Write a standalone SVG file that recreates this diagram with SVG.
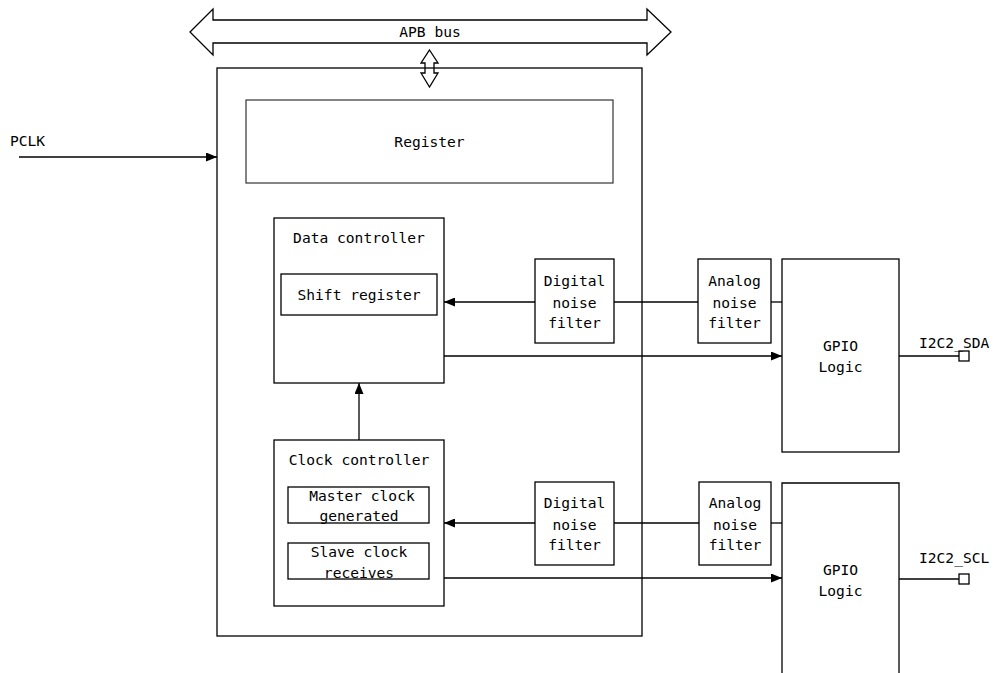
<svg xmlns="http://www.w3.org/2000/svg" width="995" height="673" viewBox="0 0 995 673">
<style>
.b{fill:none;stroke:#000;stroke-width:1.3}
.t{font-family:"DejaVu Sans Mono","Liberation Mono",monospace;font-size:14.6px;fill:#000}
.c{text-anchor:middle}
.l{fill:none;stroke:#000;stroke-width:1.3}
</style>
<defs>
<marker id="ah" viewBox="0 0 11 9" refX="11" refY="4.5" markerWidth="11" markerHeight="9" markerUnits="userSpaceOnUse" orient="auto">
<path d="M0,0 L11,4.5 L0,9 Z" fill="#000"/>
</marker>
</defs>
<rect width="995" height="673" fill="#fff"/>
<g id="apb_bus">
<polygon class="b" points="190,32 213,9 213,20 647,20 647,9 671,32 647,55 647,43 213,43 213,55"/>
<text class="t c" x="430" y="37">APB bus</text>
</g>
<g id="i2c_block">
<rect class="b" x="217" y="68" width="425" height="568"/>
</g>
<g id="apb_link">
<polygon class="b" points="429.5,50 438,63 434,63 434,73 438,73 429.5,87 421,73 425,73 425,63 421,63"/>
</g>
<g id="pclk">
<text class="t" x="10" y="146">PCLK</text>
</g>
<g id="register">
<rect x="246" y="100" width="367" height="83" fill="none" stroke="#333" stroke-width="1.2"/>
<text class="t c" x="429.5" y="147">Register</text>
</g>
<g id="data_controller">
<rect class="b" x="274" y="218" width="170" height="165"/>
<text class="t c" x="359" y="243">Data controller</text>
</g>
<g id="shift_register">
<rect class="b" x="281" y="274" width="156" height="41"/>
<text class="t c" x="359" y="300">Shift register</text>
</g>
<g id="clock_controller">
<rect class="b" x="274" y="440" width="170" height="166"/>
<text class="t c" x="359" y="465">Clock controller</text>
</g>
<g id="master_clock">
<rect class="b" x="288" y="487" width="141" height="36"/>
<text class="t c" x="362" y="501">Master clock</text>
<text class="t c" x="359" y="521">generated</text>
</g>
<g id="slave_clock">
<rect class="b" x="288" y="543" width="141" height="36"/>
<text class="t c" x="359" y="557">Slave clock</text>
<text class="t c" x="359" y="578">receives</text>
</g>
<g id="digital_filter_1">
<rect class="b" x="535" y="259" width="79" height="84"/>
<text class="t c" x="574.5" y="286">Digital</text>
<text class="t c" x="574.5" y="308">noise</text>
<text class="t c" x="574.5" y="328">filter</text>
</g>
<g id="analog_filter_1">
<rect class="b" x="698" y="259" width="73" height="84"/>
<text class="t c" x="734.5" y="286">Analog</text>
<text class="t c" x="734.5" y="308">noise</text>
<text class="t c" x="734.5" y="328">filter</text>
</g>
<g id="digital_filter_2">
<rect class="b" x="535" y="482" width="79" height="83"/>
<text class="t c" x="574.5" y="508">Digital</text>
<text class="t c" x="574.5" y="530">noise</text>
<text class="t c" x="574.5" y="550">filter</text>
</g>
<g id="analog_filter_2">
<rect class="b" x="699" y="482" width="72" height="83"/>
<text class="t c" x="735" y="508">Analog</text>
<text class="t c" x="735" y="530">noise</text>
<text class="t c" x="735" y="550">filter</text>
</g>
<g id="gpio_1">
<rect class="b" x="782" y="259" width="117" height="193"/>
<text class="t c" x="840.5" y="351">GPIO</text>
<text class="t c" x="840.5" y="372">Logic</text>
</g>
<g id="gpio_2">
<path class="b" d="M782,680 L782,483 L899,483 L899,680"/>
<text class="t c" x="840.5" y="575">GPIO</text>
<text class="t c" x="840.5" y="596">Logic</text>
</g>
<g id="pin_sda">
<rect class="b" x="959" y="351" width="10" height="10"/>
<text class="t" x="919" y="348">I2C2_SDA</text>
</g>
<g id="pin_scl">
<rect class="b" x="959" y="574" width="10" height="10"/>
<text class="t" x="919" y="563">I2C2_SCL</text>
</g>
<g id="connectors">
<line class="l" x1="19" y1="157" x2="217" y2="157" marker-end="url(#ah)"/>
<line class="l" x1="535" y1="302" x2="444" y2="302" marker-end="url(#ah)"/>
<line class="l" x1="614" y1="302" x2="698" y2="302"/>
<line class="l" x1="771" y1="302" x2="782" y2="302"/>
<line class="l" x1="444" y1="356" x2="782" y2="356" marker-end="url(#ah)"/>
<line class="l" x1="359" y1="440" x2="359" y2="383" marker-end="url(#ah)"/>
<line class="l" x1="535" y1="523" x2="444" y2="523" marker-end="url(#ah)"/>
<line class="l" x1="614" y1="523" x2="699" y2="523"/>
<line class="l" x1="771" y1="523" x2="782" y2="523"/>
<line class="l" x1="444" y1="578" x2="782" y2="578" marker-end="url(#ah)"/>
<line class="l" x1="899" y1="356" x2="959" y2="356"/>
<line class="l" x1="899" y1="579" x2="959" y2="579"/>
</g>
</svg>
